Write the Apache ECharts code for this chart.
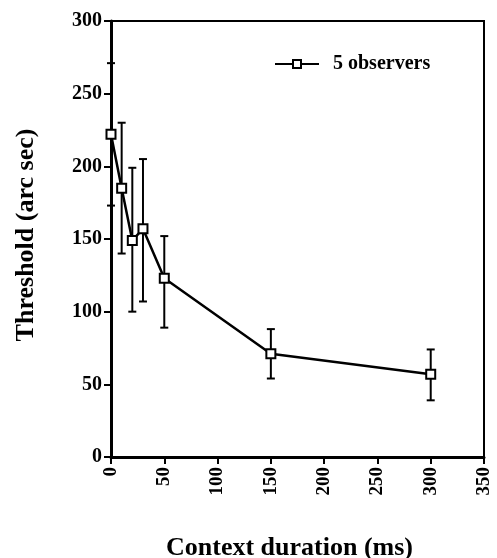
<!DOCTYPE html>
<html>
<head>
<meta charset="utf-8">
<script src="https://cdn.jsdelivr.net/npm/echarts@6/dist/echarts.min.js"></script>
<style>
  html, body { margin: 0; padding: 0; background: #fff; }
  #chart { width: 497px; height: 558px; }
</style>
</head>
<body>
<div id="chart"></div>
<script>
// context duration (ms) and threshold (arc sec)
const durations = [0, 10, 20, 30, 50, 150, 300];
const thresholds = [222, 185, 149, 157, 123, 71, 57];
const errHigh = [271, 230, 199, 205, 152, 88, 74];
const errLow = [173, 140, 100, 107, 89, 54, 39];

const FONT = "Liberation Serif";

var myChart = echarts.init(document.getElementById("chart"));

var option = {
  backgroundColor: "#fff",
  animation: false,
  grid: {
    left: 111,
    right: 13,
    top: 21,
    bottom: 101,
    outerBoundsMode: "none", // keep the plot box where it is
    show: true,
    borderColor: "#000",
    borderWidth: 2,
  },
  legend: {
    left: 269,
    top: 49,
    itemWidth: 44,
    itemHeight: 10,
    textStyle: {
      fontFamily: FONT,
      fontWeight: "bold",
      fontSize: 20,
      color: "#000",
      padding: [0, 0, 0, 9],
    },
    data: ["5 observers"],
  },
  xAxis: {
    type: "value",
    min: 0,
    max: 350,
    interval: 50,
    name: "Context duration (ms)",
    nameLocation: "middle",
    nameGap: 78,
    nameTextStyle: {
      fontFamily: FONT,
      fontWeight: "bold",
      fontSize: 26,
      color: "#000",
      padding: [0, 16, 0, 0],
    },
    axisLine: { lineStyle: { color: "#000", width: 3 } },
    axisTick: { length: 7, lineStyle: { color: "#000", width: 2 } },
    axisLabel: {
      rotate: 90,
      margin: 10,
      fontFamily: FONT,
      fontWeight: "bold",
      fontSize: 19,
      color: "#000",
    },
    splitLine: { show: false },
  },
  yAxis: {
    type: "value",
    min: 0,
    max: 300,
    interval: 50,
    name: "Threshold (arc sec)",
    nameLocation: "middle",
    nameGap: 72,
    nameTextStyle: {
      fontFamily: FONT,
      fontWeight: "bold",
      fontSize: 26,
      color: "#000",
      padding: [0, 0, 0, 8],
    },
    axisLine: { lineStyle: { color: "#000", width: 3 } },
    axisTick: { length: 7, lineStyle: { color: "#000", width: 2 } },
    axisLabel: {
      margin: 9,
      fontFamily: FONT,
      fontWeight: "bold",
      fontSize: 20,
      color: "#000",
    },
    splitLine: { show: false },
  },
  series: [
    {
      name: "errors",
      type: "custom",
      clip: false,
      z: 1,
      data: durations.map((d, i) => [d, errLow[i], errHigh[i]]),
      renderItem: function (params, api) {
        var top = api.coord([api.value(0), api.value(2)]);
        var bot = api.coord([api.value(0), api.value(1)]);
        var w = 4;
        var st = { stroke: "#000", lineWidth: 2 };
        return {
          type: "group",
          children: [
            { type: "line", shape: { x1: top[0], y1: top[1], x2: bot[0], y2: bot[1] }, style: st },
            { type: "line", shape: { x1: top[0] - w, y1: top[1], x2: top[0] + w, y2: top[1] }, style: st },
            { type: "line", shape: { x1: bot[0] - w, y1: bot[1], x2: bot[0] + w, y2: bot[1] }, style: st },
          ],
        };
      },
    },
    {
      name: "5 observers",
      type: "line",
      z: 3,
      clip: false,
      data: durations.map((d, i) => [d, thresholds[i]]),
      symbol: "rect",
      symbolSize: 9,
      itemStyle: { color: "#fff", borderColor: "#000", borderWidth: 2 },
      lineStyle: { color: "#000", width: 2.5 },
    },
  ],
};

option && myChart.setOption(option);
</script>
</body>
</html>
